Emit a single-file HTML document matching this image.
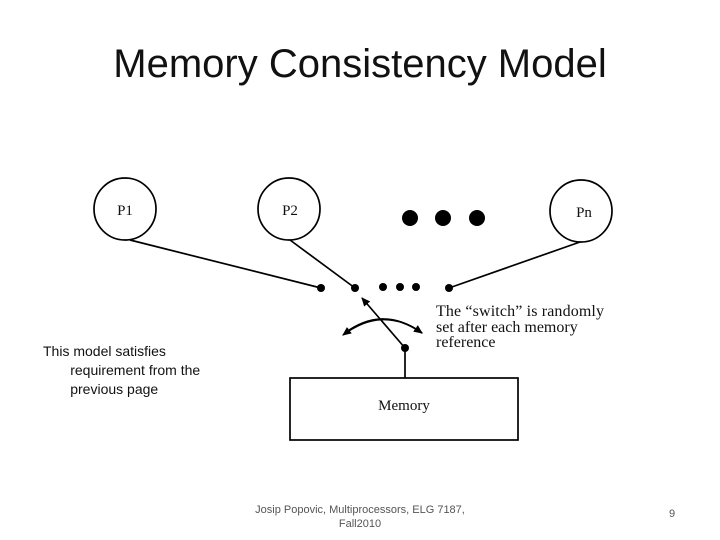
<!DOCTYPE html>
<html><head><meta charset="utf-8"><style>
body{margin:0;width:720px;height:540px;background:#fff;overflow:hidden;position:relative;font-family:"Liberation Sans",sans-serif}
.t{position:absolute;white-space:nowrap}
</style></head><body>
<div class="t" style="left:0;width:720px;text-align:center;top:42px;font-size:40px;color:#111">Memory Consistency Model</div>
<svg width="720" height="540" style="position:absolute;left:0;top:0">
<defs><marker id="a" markerWidth="10" markerHeight="10" refX="8" refY="5" orient="auto" markerUnits="userSpaceOnUse"><path d="M0,1 L9,5 L0,9 z" fill="#000"/></marker></defs>
<g stroke="#000" stroke-width="1.7" fill="none">
<circle cx="125" cy="209" r="31"/>
<circle cx="289" cy="209" r="31"/>
<circle cx="581" cy="211" r="31"/>
<line x1="130" y1="240" x2="321" y2="288"/>
<line x1="290" y1="240" x2="355" y2="288"/>
<line x1="580" y1="242" x2="449" y2="288"/>
<line x1="405" y1="348" x2="405" y2="378"/>
<line x1="405" y1="348" x2="362" y2="298" marker-end="url(#a)"/>
<path d="M345,333 Q383,305 422,333" marker-end="url(#a)"/>
<path d="M422,333 Q383,305 343,335" marker-end="url(#a)"/>
<rect x="290" y="378" width="228" height="62"/>
</g>
<g fill="#000">
<circle cx="410" cy="218" r="8"/><circle cx="443" cy="218" r="8"/><circle cx="477" cy="218" r="8"/>
<circle cx="321" cy="288" r="4"/><circle cx="355" cy="288" r="4"/><circle cx="383" cy="287" r="4"/><circle cx="400" cy="287" r="4"/><circle cx="416" cy="287" r="4"/><circle cx="449" cy="288" r="4"/><circle cx="405" cy="348" r="4"/>
</g>
<g font-family="Liberation Serif,serif" fill="#111">
<text x="125" y="215" font-size="15" text-anchor="middle">P1</text>
<text x="290" y="215" font-size="15" text-anchor="middle">P2</text>
<text x="584" y="217" font-size="15" text-anchor="middle">Pn</text>
<text x="404" y="410" font-size="15" text-anchor="middle">Memory</text>
<text x="436" y="316" font-size="16" textLength="168">The “switch” is randomly</text>
<text x="436" y="332" font-size="16">set after each memory</text>
<text x="436" y="347" font-size="16">reference</text>
</g>
</svg>
<div class="t" style="left:43px;top:342px;font-size:14px;line-height:19px;color:#111">This model satisfies<br>&nbsp;&nbsp;&nbsp;&nbsp;&nbsp;&nbsp;&nbsp;requirement from the<br>&nbsp;&nbsp;&nbsp;&nbsp;&nbsp;&nbsp;&nbsp;previous page</div>
<div class="t" style="left:160px;width:400px;text-align:center;top:503px;font-size:11px;line-height:14px;color:#555">Josip Popovic, Multiprocessors, ELG 7187,<br>Fall2010</div>
<div class="t" style="left:669px;top:508px;font-size:11px;color:#555">9</div>
</body></html>
